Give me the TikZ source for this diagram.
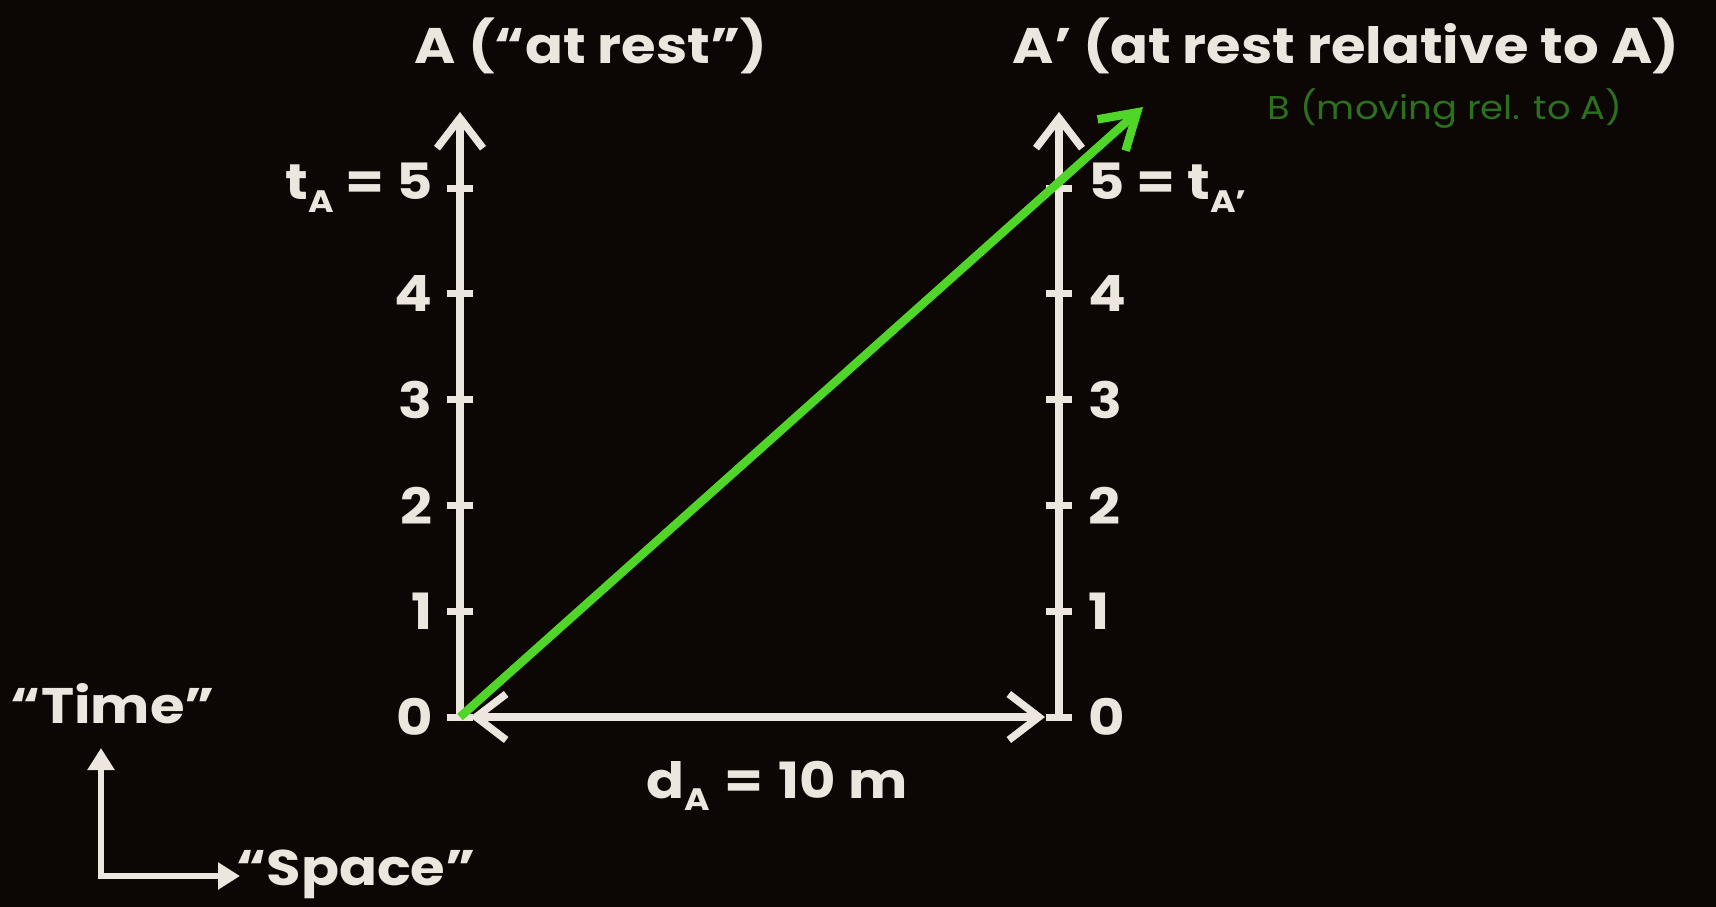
\documentclass[tikz,border=0pt]{standalone}
\usepackage{fontspec}
\setmainfont{Poppins}[FakeStretch=1.12]
\usetikzlibrary{arrows.meta, positioning}

\definecolor{board}{RGB}{12,6,5}
\definecolor{chalk}{RGB}{236,230,222}
\definecolor{worldline}{RGB}{80,214,40}
\definecolor{dimgreen}{RGB}{44,112,30}
\newcommand{\lowidx}[1]{\raisebox{-0.45ex}{\fontsize{31}{34}\selectfont #1}}

\begin{document}
\begin{tikzpicture}[
        x=1pt, y=-1pt,
        lbl/.style={text=chalk, font=\fontsize{50}{58}\selectfont\bfseries, inner sep=0pt},
        axis/.style={draw=chalk, line width=7.5pt, -{Straight Barb[length=30pt, width=46pt]}},
        tick/.style={draw=chalk, line width=7pt},
        arrow/.style={draw=chalk, line width=7.5pt, {Straight Barb[length=30pt, width=46pt]}-{Straight Barb[length=30pt, width=46pt]}},
        mini/.style={draw=chalk, line width=6.5pt, {Triangle[length=22pt, width=26pt]}-{Triangle[length=22pt, width=26pt]}}
    ]
        \fill[board] (0,0) rectangle (1716,907);
        \useasboundingbox (0,0) rectangle (1716,907);

        % Points
        \coordinate (oA) at (460,717);
        \coordinate (topA) at (460,112);
        \coordinate (oB) at (1059,717);
        \coordinate (topB) at (1059,112);
        \coordinate (endB) at (1143,107);
        \coordinate (tTop) at (101,748);
        \coordinate (sEnd) at (240,876);

        % Nodes
        \node[lbl] (titleA) at (591,46) {A (“at rest”)};
        \node[lbl] (titleB) at (1346,46) {A’ (at rest relative to A)};
        \node[lbl, text=dimgreen, font=\fontsize{33}{36}\selectfont] (lblB) at (1445,109) {B (moving rel. to A)};
        \node[lbl] (dist) at (777,786) {d\lowidx{A}\hspace{0.3em}=\hspace{0.3em}10 m};
        \node[lbl] (time) at (113,704) {“Time”};
        \node[lbl] (space) at (356,874) {“Space”};

        % Ticks
        \foreach \i in {0,...,5} {
            \draw[tick] (447,717-105.8*\i) -- (473,717-105.8*\i);
            \draw[tick] (1046,717-105.8*\i) -- (1072,717-105.8*\i);
        }
        \foreach \i in {0,...,4} {
            \node[lbl, anchor=east] (numA\i) at (433,717-105.8*\i) {\i};
            \node[lbl, anchor=west] (numB\i) at (1088,717-105.8*\i) {\i};
        }
        \node[lbl, anchor=east] (numA5) at (433,188) {t\lowidx{A} = 5};
        \node[lbl, anchor=west] (numB5) at (1088,188) {5 = t\lowidx{A’}};

        % Arrows
        \draw[axis] (oA) -- (topA);
        \draw[axis] (oB) -- (topB);
        \draw[arrow, shorten <=10pt, shorten >=14pt] (oA) -- (oB);
        \draw[mini] (tTop) |- (sEnd);
        \draw[draw=worldline, line width=8.5pt, -{Straight Barb[length=34pt, width=42pt]}] (oA) -- (endB);

    \end{tikzpicture}
\end{document}
